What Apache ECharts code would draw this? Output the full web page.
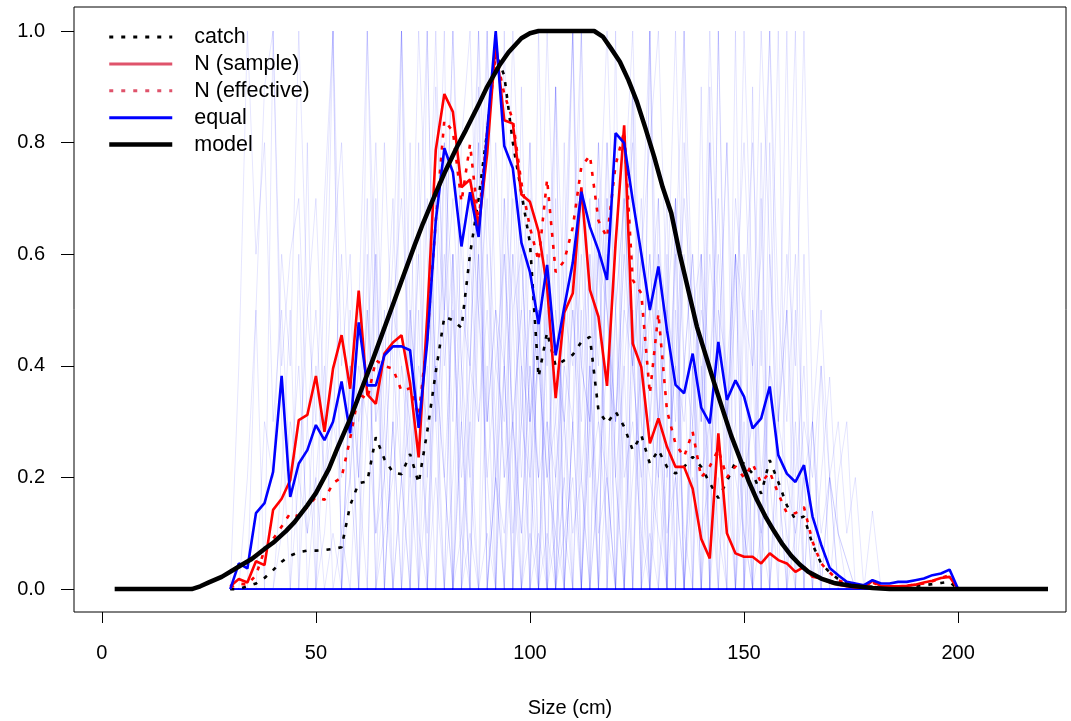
<!DOCTYPE html>
<html>
<head>
<meta charset="utf-8">
<script src="https://cdn.jsdelivr.net/npm/echarts@6/dist/echarts.min.js"></script>
<style>
    html, body { margin: 0; padding: 0; background: #fff; }
    #chart { width: 1071px; height: 721px; }
</style>
</head>
<body>
<div id="chart"></div>
<script>
// size bins (cm)
var sizeBins = [30,32,34,36,38,40,42,44,46,48,
    50,52,54,56,58,60,62,64,66,68,
    70,72,74,76,78,80,82,84,86,88,
    90,92,94,96,98,100,102,104,106,108,
    110,112,114,116,118,120,122,124,126,128,
    130,132,134,136,138,140,142,144,146,148,
    150,152,154,156,158,160,162,164,166,168,
    170,172,174,176,178,180,182,184,186,188,
    190,192,194,196,198,200];

var catchProp = [0,0,0.005,0.01,0.02,0.034,0.049,0.06,0.066,0.069,
    0.069,0.07,0.072,0.075,0.15,0.19,0.193,0.272,0.233,0.209,
    0.206,0.242,0.19,0.282,0.389,0.488,0.482,0.468,0.6,0.7,
    0.82,0.96,0.92,0.8,0.71,0.62,0.38,0.46,0.4,0.41,
    0.42,0.443,0.452,0.32,0.297,0.318,0.291,0.249,0.276,0.225,
    0.249,0.219,0.207,0.219,0.237,0.219,0.19,0.163,0.193,0.228,
    0.225,0.207,0.171,0.231,0.192,0.15,0.125,0.13,0.08,0.046,
    0.03,0.018,0.01,0.006,0.004,0.004,0.004,0.005,0.005,0.005,
    0.006,0.007,0.009,0.011,0.013,0];

var nSample = [0.005,0.018,0.012,0.05,0.043,0.142,0.162,0.195,0.303,0.312,
    0.382,0.282,0.395,0.455,0.359,0.535,0.349,0.332,0.422,0.442,
    0.455,0.369,0.236,0.488,0.787,0.887,0.855,0.72,0.734,0.648,
    0.78,0.98,0.84,0.834,0.707,0.694,0.641,0.541,0.342,0.495,
    0.53,0.72,0.536,0.488,0.364,0.62,0.831,0.44,0.398,0.261,
    0.306,0.255,0.219,0.219,0.18,0.09,0.055,0.279,0.1,0.064,
    0.058,0.058,0.046,0.064,0.052,0.046,0.031,0.04,0.022,0.019,
    0.012,0.008,0.005,0.003,0.002,0.015,0.005,0.005,0.005,0.006,
    0.008,0.012,0.015,0.02,0.022,0];

var nEffective = [0.003,0.01,0.008,0.025,0.07,0.09,0.112,0.136,0.13,0.147,
    0.165,0.16,0.19,0.2,0.27,0.35,0.34,0.41,0.4,0.395,
    0.355,0.36,0.31,0.45,0.66,0.84,0.82,0.694,0.797,0.658,
    0.82,0.96,0.887,0.84,0.727,0.648,0.588,0.734,0.568,0.588,
    0.648,0.757,0.777,0.66,0.63,0.76,0.82,0.554,0.53,0.35,
    0.494,0.32,0.26,0.237,0.282,0.2,0.22,0.25,0.2,0.22,
    0.2,0.225,0.19,0.21,0.171,0.136,0.136,0.147,0.085,0.046,
    0.03,0.016,0.01,0.007,0.005,0.012,0.005,0.005,0.005,0.006,
    0.008,0.01,0.014,0.02,0.025,0];

var equalW = [0,0.046,0.037,0.136,0.154,0.21,0.382,0.165,0.225,0.249,
    0.294,0.267,0.3,0.372,0.279,0.478,0.365,0.365,0.419,0.435,
    0.435,0.428,0.289,0.442,0.66,0.79,0.747,0.614,0.711,0.631,
    0.82,1,0.794,0.754,0.621,0.568,0.475,0.581,0.419,0.505,
    0.585,0.712,0.649,0.607,0.554,0.817,0.799,0.697,0.601,0.5,
    0.578,0.464,0.366,0.351,0.422,0.325,0.297,0.443,0.339,0.374,
    0.345,0.288,0.306,0.363,0.24,0.207,0.192,0.222,0.13,0.08,
    0.038,0.025,0.013,0.01,0.007,0.016,0.01,0.01,0.013,0.013,
    0.016,0.019,0.025,0.028,0.035,0];

// fitted selectivity
var modelSize = [3,21,23,25,28,30,33,35,38,40,43,45,48,50,53,55,58,60,63,65,68,70,73,75,78,80,83,85,88,90,93,95,98,100,102,
    115,117,119,121,123,125,127,129,131,133,135,137,139,141,143,145,147,149,151,153,155,157,159,161,163,165,168,171,175,180,184,221];
var modelSel = [0,0,0.005,0.012,0.022,0.031,0.045,0.054,0.072,0.083,0.104,0.12,0.15,0.172,0.215,0.252,0.305,0.345,0.405,0.447,0.51,0.552,0.615,0.655,0.71,0.745,0.793,0.822,0.868,0.9,0.94,0.962,0.987,0.996,1,
    1,0.99,0.968,0.945,0.912,0.873,0.825,0.775,0.72,0.674,0.6,0.535,0.47,0.42,0.37,0.322,0.275,0.235,0.195,0.16,0.13,0.104,0.08,0.06,0.044,0.031,0.019,0.011,0.006,0.002,0,0];

// individual samples (first size bin of each, then proportions)
var sampleStart = [30,32,36,40,44,50,56,60,64,70,72,76,80,84,86,90,94,98,102,106,110,114,118,122,126,130,136,140,150,160,166,
    34,46,54,62,68,74,78,82,88,92,96,100,104,108,112,116,120,124,128,132,138,144,152,146,58,40];
var sampleVals = [
    [0,.4,1,.6,.8,.3,.5,.2,.4,.1,.2,0,.1,0],
    [0,.2,.5,.9,1,.4,.6,.7,.3,.5,.2,.4,.1,.2,0],
    [0,.3,.2,.6,.4,1,.5,.7,.3,.6,.8,.4,.2,.5,.1,.3,0,.2,0],
    [0,.1,.3,.2,.5,.3,.7,1,.4,.6,.2,.5,.3,.8,.4,.2,.3,.1,0,.2,0],
    [0,.2,.1,.4,.2,.3,.6,.2,.5,1,.3,.4,.7,.2,.5,.3,.1,.4,.2,0,.1,0],
    [0,.1,.3,.2,.5,.3,.4,.8,.3,.6,1,.5,.3,.7,.4,.2,.5,.1,.3,0,.1,0],
    [0,.2,.4,.3,.6,.2,.5,.7,.4,1,.6,.3,.8,.5,.2,.4,.3,.6,.2,.1,.3,0,.1,0],
    [0,.3,.1,.2,.5,.4,.3,.6,.2,.9,.5,1,.4,.6,.3,.5,.2,.4,.1,.3,.2,0,.1,0],
    [0,.1,.2,.4,.2,.6,1,.3,.5,.7,.4,.2,.6,.3,.5,.2,.3,.1,.4,.2,0,.1,0],
    [0,.2,.4,.3,.7,.5,1,.6,.4,.8,.3,.5,.2,.6,.4,.3,.5,.2,.1,.3,0],
    [0,.3,.5,1,.4,.6,.3,.7,.5,.2,.4,.6,.3,.1,.4,.2,.3,0,.1,0],
    [0,.4,.6,.3,.8,1,.5,.7,.4,.3,.6,.2,.5,.4,.2,.3,.1,.2,0],
    [0,.2,.5,.4,1,.6,.3,.7,.5,.6,.3,.4,.2,.5,.3,.1,.2,0],
    [0,.3,.6,1,.5,.4,.7,.3,.5,.2,.6,.4,.3,.5,.2,.4,.1,.2,0],
    [0,.5,.3,.8,.4,1,.6,.3,.5,.7,.2,.4,.3,.6,.2,.3,.1,0],
    [0,.2,.6,.3,.5,.8,.4,1,.5,.3,.6,.4,.7,.3,.2,.5,.2,.3,.1,0],
    [0,.3,.5,.2,.6,.4,.9,.5,1,.4,.3,.7,.5,.2,.4,.6,.3,.2,.1,0],
    [0,.2,.4,.7,.3,.5,.6,1,.4,.8,.5,.3,.6,.4,.2,.5,.3,.1,.2,0],
    [0,.3,.2,.5,.4,.7,.3,.6,1,.5,.7,.4,.6,.3,.5,.2,.4,.1,0],
    [0,.2,.5,.3,.6,.4,.8,.5,.7,1,.4,.6,.3,.5,.2,.4,.3,.1,.2,0],
    [0,.4,.3,.6,.5,.3,.7,.4,.6,.8,1,.5,.3,.6,.4,.2,.3,.1,0],
    [0,.2,.4,.3,.6,.8,.4,.5,.7,.3,.6,1,.5,.4,.2,.5,.3,.2,.1,0],
    [0,.3,.5,.4,.7,.3,.6,.5,1,.4,.6,.3,.8,.4,.2,.3,.1,0],
    [0,.2,.4,.6,.3,.5,.7,.4,.6,.3,1,.5,.4,.6,.2,.3,.1,.2,0],
    [0,.3,.2,.5,.4,.7,.5,.3,.6,.4,.8,.3,1,.5,.2,.4,.2,.1,0],
    [0,.2,.4,.3,.5,.6,.4,.7,.3,.5,.8,.4,.6,1,.3,.2,.1,.2,0],
    [0,.3,.5,.4,.6,.3,.7,.5,.4,1,.6,.3,.5,.2,.4,.1,0],
    [0,.2,.4,.3,.6,.5,.8,.4,1,.5,.3,.6,.2,.3,.1,.2,0],
    [0,.2,.1,.4,.3,.6,.4,1,.3,.5,.2,.3,.1,.2,0],
    [0,.1,.3,.2,.4,.2,.1,.05,0,0,.14,0],
    [0,.2,.38,.1,.05,0],
    [0,.5,0,1,.3,0,.6,0,.2,.4,0,.1,0],
    [0,.3,0,.6,1,0,.4,.2,0,.7,0,.3,0,.5,0],
    [0,0,.4,0,1,.5,0,.3,0,.8,0,.2,.4,0,.6,0,.1,0],
    [0,.6,0,.3,1,0,.5,0,.7,.2,0,.4,0,.9,0,.2,0],
    [0,.2,0,.8,0,.5,1,0,.3,0,.6,.2,0,.4,0,.7,0,.1,0],
    [0,1,.3,0,.6,0,.4,.8,0,.2,0,.5,0,.3,.6,0,.2,0],
    [0,.5,0,.7,.2,0,1,0,.4,0,.9,.3,0,.6,0,.2,0],
    [0,0,.6,1,0,.3,0,.8,.4,0,.5,0,.7,0,.3,0,.4,0],
    [0,.4,0,1,.2,0,.7,0,.5,.9,0,.3,0,.6,0,.2,0],
    [0,.7,0,.4,0,1,.3,0,.8,0,.5,0,.2,.6,0,.3,0],
    [0,.3,.8,0,.5,0,.6,1,0,.4,0,.7,.2,0,.5,0,.1,0],
    [0,.5,0,.9,0,.3,1,0,.6,.2,0,.8,0,.4,0,.3,0],
    [0,0,.4,1,.2,0,.7,0,.5,0,.9,.3,0,.6,0,.2,0],
    [0,.6,0,.3,.8,0,1,0,.4,.2,0,.7,0,.5,0,.2,0],
    [0,.3,0,.7,0,.5,.9,0,1,.2,0,.6,0,.4,0,.3,0],
    [0,.8,.2,0,.5,0,1,.4,0,.7,0,.3,.6,0,.2,0],
    [0,.4,0,.6,1,0,.3,0,.8,.5,0,.9,0,.4,0,.2,0],
    [0,.5,0,.3,.7,0,1,0,.6,0,.4,.8,0,.3,0,.1,0],
    [0,.2,.6,0,.4,0,.9,0,1,.3,0,.5,0,.7,0,.2,0],
    [0,.7,0,.4,0,.8,.3,0,1,0,.5,0,.6,.2,0,.3,0],
    [0,.4,0,1,.2,0,.6,0,.8,0,.3,.5,0,.2,0],
    [0,.3,.6,0,.9,0,.4,1,0,.5,0,.3,0,.2,0],
    [0,.5,0,.3,1,0,.6,0,.4,0,.2,.3,0],
    [0,.6,0,.4,0,.8,0,.5,1,0,.3,0,.2,.1,0],
    [0,.3,.7,0,.5,0,1,.2,0,.4,0,.8,0,.3,0],
    [0,.2,.5,0,.8,0,.3,1,0,.4,0,.6,0,.2,0]
];

var font = 'Liberation Sans, Arial, sans-serif';

function pairs(xs, ys) {
    return xs.map(function (x, i) { return [x, ys[i]]; });
}

// one sample spread over all bins, zero outside its own range
function sampleData(k) {
    var off = (sampleStart[k] - sizeBins[0]) / 2;
    var vals = sampleVals[k];
    return sizeBins.map(function (s, i) {
        var j = i - off;
        return [s, (j >= 0 && j < vals.length) ? vals[j] : 0];
    });
}

var series = [];
for (var k = 0; k < sampleVals.length; k++) {
    series.push({
        name: 'sample' + k,
        type: 'line',
        data: sampleData(k),
        symbol: 'none',
        silent: true,
        lineStyle: { color: 'rgba(0,0,255,0.1)', width: 1 }
    });
}

series.push({
    name: 'catch', type: 'line', data: pairs(sizeBins, catchProp), symbol: 'none',
    itemStyle: { color: '#000' },
    lineStyle: { color: '#000', width: 2.6, type: [4, 8] }
});
series.push({
    name: 'N (sample)', type: 'line', data: pairs(sizeBins, nSample), symbol: 'none',
    itemStyle: { color: '#ff0000' },
    lineStyle: { color: '#ff0000', width: 2.6 }
});
series.push({
    name: 'N (effective)', type: 'line', data: pairs(sizeBins, nEffective), symbol: 'none',
    itemStyle: { color: '#ff0000' },
    lineStyle: { color: '#ff0000', width: 2.6, type: [4, 8] }
});
series.push({
    name: 'equal', type: 'line', data: pairs(sizeBins, equalW), symbol: 'none',
    itemStyle: { color: '#0000ff' },
    lineStyle: { color: '#0000ff', width: 2.6 }
});
series.push({
    name: 'model', type: 'line', data: pairs(modelSize, modelSel), symbol: 'none',
    itemStyle: { color: '#000' },
    lineStyle: { color: '#000', width: 4.5, join: 'round' }
});

var option = {
    animation: false,
    backgroundColor: '#fff',
    textStyle: { fontFamily: font },
    grid: {
        show: true,
        left: 74, right: 5, top: 7, bottom: 109,
        outerBoundsMode: 'none',
        borderColor: '#000', borderWidth: 1,
        backgroundColor: 'transparent'
    },
    legend: {
        orient: 'vertical',
        left: 102, top: 21,
        itemWidth: 63, itemHeight: 20, itemGap: 4.9,
        itemStyle: { opacity: 0 },
        data: [
            { name: 'catch', lineStyle: { color: '#000', width: 3, type: [4, 8] } },
            { name: 'N (sample)', lineStyle: { color: '#DF536B', width: 3 } },
            { name: 'N (effective)', lineStyle: { color: '#DF536B', width: 3, type: [4, 8] } },
            { name: 'equal', lineStyle: { color: '#0000ff', width: 3 } },
            { name: 'model', lineStyle: { color: '#000', width: 4.5 } }
        ],
        textStyle: { fontSize: 21.5, color: '#000', fontFamily: font, padding: [0, 0, 0, 17], lineHeight: 20 }
    },
    xAxis: {
        type: 'value',
        min: -6.5, max: 225.2,
        name: 'Size (cm)',
        nameLocation: 'middle',
        nameGap: 86,
        nameTextStyle: { fontSize: 20, color: '#000', fontFamily: font },
        axisLine: { show: false, onZero: false },
        axisTick: { show: true, inside: false, length: 11, lineStyle: { color: '#000' }, customValues: [0, 50, 100, 150, 200] },
        axisLabel: { fontSize: 20, color: '#000', margin: 31, fontFamily: font, customValues: [0, 50, 100, 150, 200] },
        splitLine: { show: false }
    },
    yAxis: {
        type: 'value',
        min: -0.041, max: 1.043,
        axisLine: { show: false, onZero: false },
        axisTick: { show: true, inside: false, length: 13, lineStyle: { color: '#000' }, customValues: [0, 0.2, 0.4, 0.6, 0.8, 1] },
        axisLabel: {
            fontSize: 20, color: '#000', margin: 29, fontFamily: font,
            customValues: [0, 0.2, 0.4, 0.6, 0.8, 1],
            formatter: function (v) { return v.toFixed(1); }
        },
        splitLine: { show: false }
    },
    series: series
};

var chart = echarts.init(document.getElementById('chart'));
chart.setOption(option);
</script>
</body>
</html>
